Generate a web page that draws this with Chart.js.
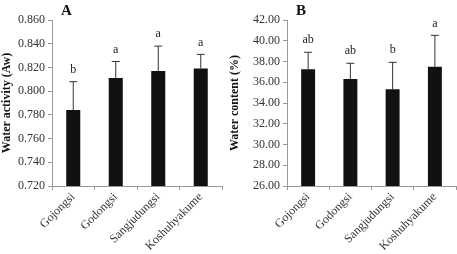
<!DOCTYPE html>
<html>
<head>
<meta charset="utf-8">
<script src="https://cdn.jsdelivr.net/npm/chart.js@4"></script>
<style>
  html, body { margin: 0; padding: 0; background: #fff; }
  .wrap { display: flex; width: 457px; height: 254px; }
  .panel { position: relative; height: 254px; }
</style>
</head>
<body>
<div class="wrap">
  <div class="panel" style="width:228px"><canvas id="chartA"></canvas></div>
  <div class="panel" style="width:229px"><canvas id="chartB"></canvas></div>
</div>
<script>
const categories = ['Gojongsi', 'Godongsi', 'Sangjudungsi', 'Koshuhyakume'];

const waterActivity = [0.784, 0.811, 0.817, 0.819];
const waterActivityErr = [0.024, 0.014, 0.021, 0.012];
const waterActivityLetters = ['b', 'a', 'a', 'a'];

const waterContent = [37.25, 36.31, 35.32, 37.50];
const waterContentErr = [1.64, 1.52, 2.60, 3.02];
const waterContentLetters = ['ab', 'ab', 'b', 'a'];

const serif = '"Liberation Serif", "DejaVu Serif", serif';

// error bars, significance letters and the panel letter
const extrasPlugin = {
  id: 'extras',
  afterDatasetsDraw(chart, args, opts) {
    const ctx = chart.ctx;
    const y = chart.scales.y;
    const meta = chart.getDatasetMeta(0);
    ctx.save();
    meta.data.forEach((bar, i) => {
      const v = chart.data.datasets[0].data[i];
      const topY = y.getPixelForValue(v + opts.err[i]);
      ctx.strokeStyle = '#333';
      ctx.lineWidth = 1;
      ctx.beginPath();
      ctx.moveTo(bar.x, bar.y);
      ctx.lineTo(bar.x, topY);
      ctx.moveTo(bar.x - 4, topY);
      ctx.lineTo(bar.x + 4, topY);
      ctx.stroke();
      ctx.fillStyle = '#222';
      ctx.font = '12px ' + serif;
      ctx.textAlign = 'center';
      ctx.textBaseline = 'bottom';
      ctx.fillText(opts.letters[i], bar.x, topY - 6);
    });
    ctx.fillStyle = '#111';
    ctx.font = 'bold 15px ' + serif;
    ctx.textAlign = 'left';
    ctx.textBaseline = 'middle';
    ctx.fillText(opts.panel, chart.chartArea.left + 9, 11);
    ctx.restore();
  }
};

function makeChart(id, values, err, letters, panel, title, min, max, step, digits, leftW, padRight) {
  new Chart(document.getElementById(id), {
    type: 'bar',
    data: {
      labels: categories,
      datasets: [{
        data: values,
        backgroundColor: '#111',
        barPercentage: 0.33,
        categoryPercentage: 1
      }]
    },
    options: {
      responsive: true,
      maintainAspectRatio: false,
      animation: false,
      layout: { padding: { top: 20, right: padRight, left: 0, bottom: 0 } },
      scales: {
        x: {
          grid: { display: true, drawOnChartArea: false, tickLength: 4, color: '#999', offset: true },
          border: { color: '#999' },
          ticks: {
            minRotation: 45, maxRotation: 45, padding: 0,
            color: '#333',
            font: { family: serif, size: 12 }
          },
          afterFit(s) { s.height = 68; }
        },
        y: {
          min: min, max: max,
          grid: { display: true, drawOnChartArea: false, tickLength: 4, color: '#999' },
          border: { color: '#999' },
          ticks: {
            stepSize: step,
            color: '#333',
            padding: 3,
            font: { family: serif, size: 12 },
            callback: v => Number(v).toFixed(digits)
          },
          title: {
            display: true, text: title, color: '#111', padding: 0,
            font: { family: serif, size: 12, weight: 'bold' }
          },
          afterFit(s) { s.width = leftW; }
        }
      },
      plugins: {
        legend: { display: false },
        tooltip: { enabled: false },
        extras: { err: err, letters: letters, panel: panel }
      }
    },
    plugins: [extrasPlugin]
  });
}

makeChart('chartA', waterActivity, waterActivityErr, waterActivityLetters, 'A',
  'Water activity (Aw)', 0.72, 0.86, 0.02, 3, 52, 6);
makeChart('chartB', waterContent, waterContentErr, waterContentLetters, 'B',
  'Water content (%)', 26, 42, 2, 2, 59, 1);
</script>
</body>
</html>
